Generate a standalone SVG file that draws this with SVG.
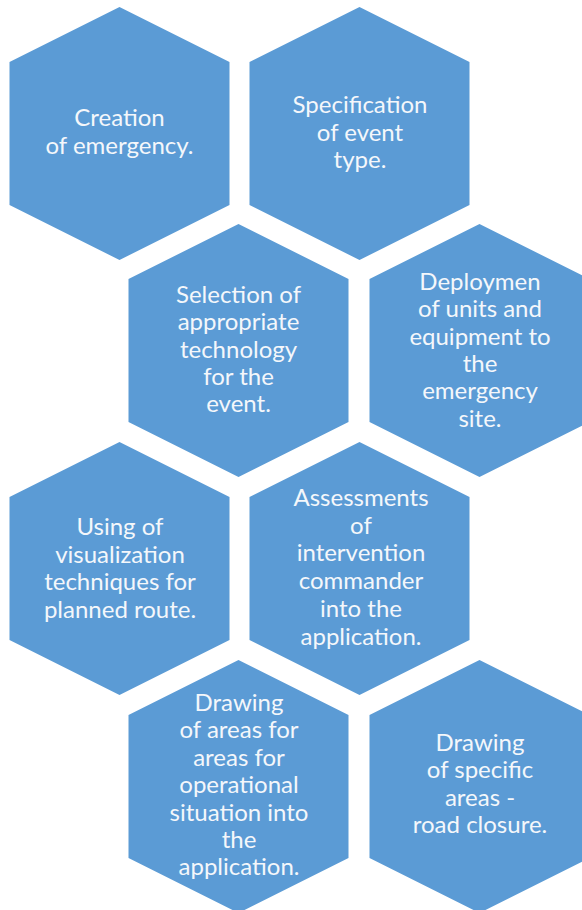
<svg xmlns="http://www.w3.org/2000/svg" width="582" height="910" viewBox="0 0 582 910">
<style>
.hex{fill:#5b9bd5;}
.t{font-family:Lato,"Liberation Sans",sans-serif;font-size:24px;fill:#f4f7fb;text-anchor:middle;}
</style>
<defs>
<polygon id="hx" class="hex" points="0,0 110,55 110,198 0,253 -110,198 -110,55"/>
</defs>
<rect width="582" height="910" fill="#ffffff"/>
<g id="connectors"></g>
<g id="n1"><use href="#hx" x="119.5" y="7"/>
<text class="t" x="119.5" y="126"><tspan x="119.5">Creation</tspan><tspan x="119.5" dy="28">of emergency.</tspan></text></g>
<g id="n2"><use href="#hx" x="359.5" y="7"/>
<text class="t" x="360" y="113"><tspan x="360">Specification</tspan><tspan x="360" dy="27.5">of event</tspan><tspan x="360" dy="27.5">type.</tspan></text></g>
<g id="n3"><use href="#hx" x="238.5" y="224"/>
<text class="t" x="238.5" y="303"><tspan x="238.5">Selection of</tspan><tspan x="238.5" dy="27.3">appropriate</tspan><tspan x="238.5" dy="27.3">technology</tspan><tspan x="238.5" dy="27.3">for the</tspan><tspan x="238.5" dy="27.3">event.</tspan></text></g>
<g id="n4"><use href="#hx" x="479.5" y="224"/>
<text class="t" x="480" y="290"><tspan x="480">Deploymen</tspan><tspan x="480" dy="27.3">of units and</tspan><tspan x="480" dy="27.3">equipment to</tspan><tspan x="480" dy="27.3">the</tspan><tspan x="480" dy="27.3">emergency</tspan><tspan x="480" dy="27.3">site.</tspan></text></g>
<g id="n5"><use href="#hx" x="119.5" y="442"/>
<text class="t" x="120" y="535"><tspan x="120">Using of</tspan><tspan x="120" dy="27.6">visualization</tspan><tspan x="120" dy="27.6">techniques for</tspan><tspan x="120" dy="27.6">planned route.</tspan></text></g>
<g id="n6"><use href="#hx" x="359.5" y="442"/>
<text class="t" x="361" y="506"><tspan x="361">Assessments</tspan><tspan x="361" dy="27.7">of</tspan><tspan x="361" dy="27.7">intervention</tspan><tspan x="361" dy="27.7">commander</tspan><tspan x="361" dy="27.7">into the</tspan><tspan x="361" dy="27.7">application.</tspan></text></g>
<g id="n7"><use href="#hx" x="238.5" y="660"/>
<text class="t" x="239" y="711"><tspan x="239">Drawing</tspan><tspan x="239" dy="27.4">of areas for</tspan><tspan x="239" dy="27.4">areas for</tspan><tspan x="239" dy="27.4">operational</tspan><tspan x="239" dy="27.4">situation into</tspan><tspan x="239" dy="27.4">the</tspan><tspan x="239" dy="27.4">application.</tspan></text></g>
<g id="n8"><use href="#hx" x="479.5" y="660"/>
<text class="t" x="480" y="751"><tspan x="480">Drawing</tspan><tspan x="480" dy="27.4">of specific</tspan><tspan x="480" dy="27.4">areas -</tspan><tspan x="480" dy="27.4">road closure.</tspan></text></g>
</svg>
